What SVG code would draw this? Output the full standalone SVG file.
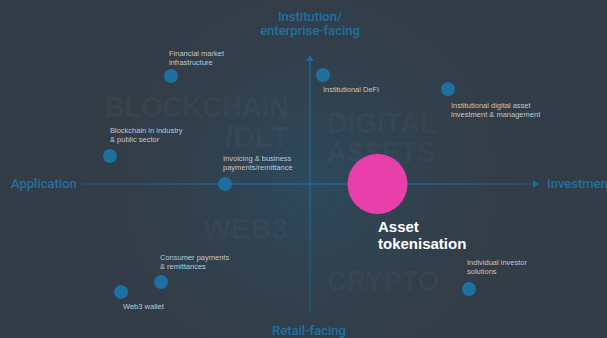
<svg xmlns="http://www.w3.org/2000/svg" width="607" height="338" viewBox="0 0 607 338">
<defs>
<radialGradient id="glow" cx="310" cy="184" r="230" gradientUnits="userSpaceOnUse">
<stop offset="0" stop-color="#2c4b5e" stop-opacity="0.9"/>
<stop offset="0.5" stop-color="#2f4555" stop-opacity="0.45"/>
<stop offset="1" stop-color="#333d47" stop-opacity="0"/>
</radialGradient>
<linearGradient id="hline" x1="81" y1="0" x2="533" y2="0" gradientUnits="userSpaceOnUse">
<stop offset="0" stop-color="#1c5f86" stop-opacity="0.55"/>
<stop offset="0.4" stop-color="#1d6a96" stop-opacity="1"/>
<stop offset="0.7" stop-color="#1d6a96" stop-opacity="1"/>
<stop offset="1" stop-color="#1c5f86" stop-opacity="0.7"/>
</linearGradient>
<linearGradient id="vline" x1="0" y1="60" x2="0" y2="313" gradientUnits="userSpaceOnUse">
<stop offset="0" stop-color="#1d6a96" stop-opacity="1"/>
<stop offset="0.5" stop-color="#1d6a96" stop-opacity="1"/>
<stop offset="1" stop-color="#1c5f86" stop-opacity="0.8"/>
</linearGradient>
</defs>
<style>
.bg{fill:#333d47}
.big{font-family:"Liberation Sans",Arial,sans-serif;font-weight:bold;font-size:29px;fill:#ffffff;fill-opacity:0.04}
.axis{font-family:Roboto,"Liberation Sans",Arial,sans-serif;font-weight:500;font-size:13px;fill:#1f72a0}
.lbl{font-family:"Liberation Sans",Arial,sans-serif;font-size:7.5px;fill:#c0c6cc}
.dot{fill:#1d70a0}
.hero{font-family:"Liberation Sans",Arial,sans-serif;font-weight:bold;font-size:15px;fill:#ffffff}
.arrow{fill:#1d6a96}
</style>
<rect class="bg" x="0" y="0" width="607" height="338"/>
<rect x="0" y="0" width="607" height="338" fill="url(#glow)"/>

<g id="watermarks">
<text class="big" x="105" y="117" textLength="184" lengthAdjust="spacingAndGlyphs">BLOCKCHAIN</text>
<text class="big" x="225" y="147" textLength="64" lengthAdjust="spacingAndGlyphs">/DLT</text>
<text class="big" x="327" y="133" textLength="110" lengthAdjust="spacingAndGlyphs">DIGITAL</text>
<text class="big" x="327" y="162" textLength="108" lengthAdjust="spacingAndGlyphs">ASSETS</text>
<text class="big" x="203" y="239" textLength="85" lengthAdjust="spacingAndGlyphs">WEB3</text>
<text class="big" x="327" y="291" textLength="112" lengthAdjust="spacingAndGlyphs">CRYPTO</text>
</g>

<g id="connectors">
<line x1="81" y1="184" x2="534" y2="184" stroke="url(#hline)" stroke-width="1.3"/>
<polygon class="arrow" points="533,180 539,184 533,188"/>
<line x1="310" y1="60" x2="310" y2="313" stroke="url(#vline)" stroke-width="1.3"/>
<polygon class="arrow" points="306,61 310,55 314,61"/>
</g>

<g id="axis-top">
<text class="axis" x="310" y="21" text-anchor="middle">Institution/</text>
<text class="axis" x="310" y="35" text-anchor="middle">enterprise-facing</text>
</g>
<g id="axis-left">
<text class="axis" x="11" y="188">Application</text>
</g>
<g id="axis-right">
<text class="axis" x="547" y="188">Investment</text>
</g>
<g id="axis-bottom">
<text class="axis" x="309" y="335" text-anchor="middle">Retail-facing</text>
</g>

<g id="node-financial-market">
<circle class="dot" cx="171" cy="76" r="7"/>
<text class="lbl" x="169" y="56">Financial market</text>
<text class="lbl" x="169" y="65">infrastructure</text>
</g>
<g id="node-blockchain-industry">
<circle class="dot" cx="110" cy="156" r="7"/>
<text class="lbl" x="110" y="133">Blockchain in industry</text>
<text class="lbl" x="110" y="142">&amp; public sector</text>
</g>
<g id="node-invoicing">
<circle class="dot" cx="225" cy="184" r="7"/>
<text class="lbl" x="223" y="161">Invoicing &amp; business</text>
<text class="lbl" x="223" y="170">payments/remittance</text>
</g>
<g id="node-institutional-defi">
<circle class="dot" cx="323" cy="75" r="7"/>
<text class="lbl" x="323" y="92">Institutional DeFi</text>
</g>
<g id="node-institutional-digital">
<circle class="dot" cx="448" cy="89" r="7"/>
<text class="lbl" x="451" y="108">Institutional digital asset</text>
<text class="lbl" x="451" y="117">investment &amp; management</text>
</g>
<g id="node-consumer-payments">
<circle class="dot" cx="161" cy="282" r="7"/>
<text class="lbl" x="160" y="260">Consumer payments</text>
<text class="lbl" x="160" y="269">&amp; remittances</text>
</g>
<g id="node-web3-wallet">
<circle class="dot" cx="121" cy="292" r="7"/>
<text class="lbl" x="123" y="309">Web3 wallet</text>
</g>
<g id="node-individual-investor">
<circle class="dot" cx="469" cy="289" r="7"/>
<text class="lbl" x="467" y="265">Individual investor</text>
<text class="lbl" x="467" y="274">solutions</text>
</g>
<g id="node-asset-tokenisation">
<circle cx="377.5" cy="184" r="30" fill="#e93fab"/>
<text class="hero" x="378" y="232">Asset</text>
<text class="hero" x="378" y="249">tokenisation</text>
</g>
</svg>
